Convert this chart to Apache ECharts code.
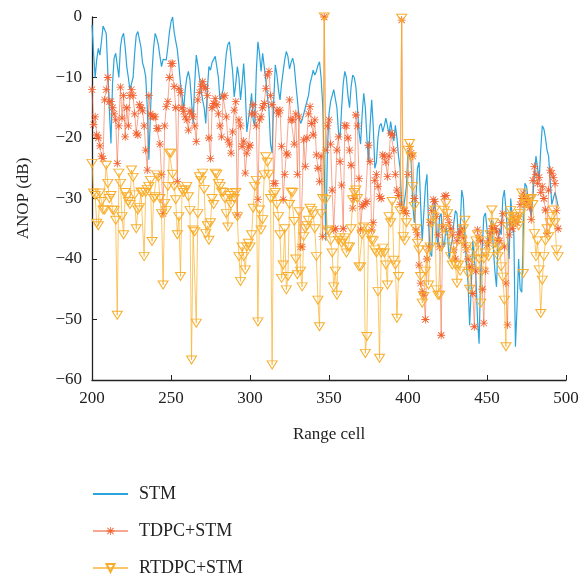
<!DOCTYPE html>
<html>
	<head>
		<meta charset="UTF-8">
		<title>ANOP</title>
		<style type="text/css">
			body {
				margin: 0;
				padding: 0;
				background: #fff;
			}

			#chart {
				width: 586px;
				height: 588px;
			}
		</style>
	</head>
	<body>
		<div id="chart"></div>
		<script src="https://cdn.jsdelivr.net/npm/echarts@6/dist/echarts.min.js" type="text/javascript" charset="utf-8"></script>
		<script>
			// range cells 200 .. 495, one value per cell
			var startCell = 200;

			var stm = [
				-1.3, -6, -10, -7, -5.2, -6.3, -4, -1.5, -1.3, -2.7,
				-9, -15.4, -20.9, -11, -6.8, -6, -8, -10, -5, -3.3,
				-2.7, -5, -8.2, -10, -12, -11, -10, -6, -3, -2.4,
				-2.7, -5, -7.6, -8.5, -9.9, -15, -23.6, -16, -9, -5,
				-2.7, -3.5, -4.6, -6.5, -8.2, -7, -6.8, -7.1, -5, -2.5,
				-0.8, 0, -2.5, -4, -5.4, -8, -11, -13, -15.4, -12,
				-10, -9, -10.4, -14, -17.6, -11, -6.3, -8, -10, -12,
				-13.7, -15, -17.6, -12, -8.2, -8.8, -7.5, -7, -6.5, -6.8,
				-10, -13.7, -13, -12, -9, -6, -4.5, -4.1, -6.6, -9,
				-13.2, -11, -8.2, -10, -13.7, -11, -7.7, -12, -19, -19,
				-15, -12.6, -17, -18, -9, -4.1, -6, -9, -6, -6.3,
				-10.4, -13, -15.4, -21, -22.5, -14, -7.9, -9.5, -12, -13.7,
				-11, -9, -7, -5.7, -6.5, -8.6, -7.5, -6.8, -8, -11,
				-13.7, -16.5, -17.6, -17, -16, -15, -14.8, -13, -11, -10,
				-8.8, -9.6, -9, -8, -7.4, -10, -14.5, -25, -37, -22,
				-16, -14, -13, -12, -12.2, -15, -19, -20, -15, -11,
				-9, -10, -13, -15, -11.5, -9.6, -10, -11.5, -15, -19,
				-21, -16, -12.6, -15, -20, -24, -18, -13.7, -18, -25,
				-24, -20, -18, -17.6, -19, -18, -16.7, -18, -19.5, -17.3,
				-19, -20.5, -17.9, -20, -23, -25, -31, -32, -32, -28,
				-22, -22, -24, -31, -34, -30, -25, -24, -31, -37,
				-37, -28, -26, -34, -39, -39.6, -32, -30, -36, -38,
				-33, -32.5, -37, -38, -34.7, -36, -40, -38, -36.9, -34,
				-32, -32.5, -37, -35, -28.6, -30, -36, -41, -44, -51,
				-45, -37, -40, -43, -50, -54, -42, -38, -33, -32.4,
				-35, -38, -36, -33.5, -38, -42, -44.6, -37, -35, -36,
				-30, -28.6, -32, -36, -40, -30, -29.7, -36, -54.5, -48,
				-40, -45, -45.5, -35, -27.5, -28, -30, -31, -33, -30,
				-26, -23, -25, -27, -22, -18, -18.5, -20, -22, -23,
				-27, -31, -30, -29, -30, -31.3
			];

			var tdpc = [
				-12, -17.8, -16.5, -19.5, -20, -21.3, -23, -23.4, -13.7, -12,
				-10, -14, -14, -15, -16, -17, -24.2, -18, -11.6, -16.7,
				-13, -19.8, -15, -18, -13, -12, -13, -16, -19.2, -19.5,
				-14.5, -15, -15.5, -18, -22, -25.3, -13, -16, -16.4, -16.5,
				-16.5, -18.4, -18.4, -21, -26, -32.5, -18, -14.8, -14, -10,
				-7.7, -7.7, -11.5, -15, -27.2, -11.8, -12.5, -15, -15.6, -16.5,
				-17, -18.7, -15.5, -16, -16.5, -18, -20.6, -13.7, -12.5, -11.5,
				-10.7, -11.5, -11.8, -13, -20, -23.4, -15, -14.3, -13.5, -14.5,
				-16, -18, -19.8, -13.2, -13, -16.5, -20.3, -21, -22.5, -19,
				-15.4, -14, -32.7, -17, -18, -21.4, -20.5, -25.8, -22.5, -21.5,
				-21.2, -16, -14.5, -16, -18, -30.2, -17, -16.5, -15, -14.3,
				-11.8, -9.6, -9, -13, -14.5, -27.5, -27.5, -15.4, -16, -15.4,
				-21.4, -30.2, -26, -22.5, -22.8, -13.7, -17, -17, -21, -16,
				-26, -16.5, -38, -38, -20.3, -24.7, -20, -16, -14.8, -17.6,
				-19.5, -17, -22.8, -25, -27.2, -23, -36.3, 0, -22, -18,
				-17, -21, -28.6, -35.2, -35, -22, -19.8, -23.9, -27.8, -35,
				-17.9, -18, -20, -22, -24.5, -31.6, -30, -16.2, -18, -26.7,
				-35.2, -31.3, -31, -30.8, -30.5, -21.2, -23.9, -35.2, -34, -27,
				-26, -28, -29.7, -30, -22.8, -23, -24, -26.4, -23, -19.2,
				-19.5, -22, -26, -28.6, -29.5, -31, -0.5, -32, -32, -32.5,
				-26, -21.4, -22.5, -23, -30, -35.2, -36, -41, -44, -45.4,
				-46, -50, -40, -38, -34, -32, -30.2, -30.5, -33, -36,
				-38, -52.6, -34.7, -29.7, -29.5, -33, -34, -35, -36, -38.5,
				-40, -37, -36, -35.5, -35, -36.5, -37.7, -38.5, -40, -41.3,
				-41.3, -45.7, -51.2, -42, -35.2, -36.5, -37, -45, -50.6, -42,
				-37.7, -37, -35.8, -35, -34.5, -35, -35.5, -36.9, -37, -34,
				-32.5, -38, -44, -50.9, -36, -34, -35, -33, -34, -34,
				-33, -31, -30, -29.1, -31, -30, -30.5, -31.5, -33.5, -27,
				-24.7, -26, -27.5, -26.5, -29, -28, -30, -31.9, -35.8, -28.6,
				-25.3, -25.8, -26.5, -27.5, -32, -35
			];

			var rtdpc = [
				-24.2, -29.1, -29.5, -34.1, -34.5, -29.1, -30.5, -31.9, -31.9, -24.5,
				-27.5, -30, -29.5, -31.9, -32, -33.6, -49.3, -25.8, -27.5, -33,
				-36, -29, -29.7, -30.5, -31, -25.3, -26.5, -29.4, -35, -31.9,
				-31.5, -28.9, -29, -39.6, -29, -28.5, -28, -27, -37.1, -30,
				-29.7, -26.1, -26.5, -30, -32.5, -44.3, -30.8, -32, -28, -22.5,
				-22.5, -26, -28, -30.2, -36, -33, -42.9, -28.6, -29, -28.6,
				-28, -29.7, -32, -56.7, -35.2, -35.5, -50.6, -32.5, -26.4, -27,
				-25.8, -28.5, -35.8, -34.5, -36.9, -34, -30, -31, -25.8, -26,
				-27.5, -28, -28.9, -29, -30, -32.5, -34.7, -29.5, -31, -29.1,
				-30, -29, -33, -39.6, -43.7, -38, -39.6, -41.8, -38, -37.4,
				-38, -36, -31.6, -28, -27, -50.4, -31.9, -35.2, -33.5, -26.1,
				-23.1, -24, -26, -30, -57.5, -29.4, -29, -31, -33, -36,
				-43.2, -41, -35, -45.1, -42.9, -31, -28.9, -29, -33.8, -40,
				-42.6, -32.2, -42, -44.6, -36.3, -35, -34.5, -33.6, -31.6, -32,
				-32.7, -35, -39.6, -46.8, -51.2, -32.5, -30, 0, -30.2, -35.2,
				-35.5, -37, -39, -44.6, -42, -46, -36.9, -36.5, -37.4, -37,
				-36.5, -39, -38, -38, -35, -30.2, -29, -28.6, -30, -41.3,
				-41.3, -36, -34.7, -55.6, -52.8, -35, -36, -36.9, -37, -38.5,
				-39, -45.4, -56.4, -39, -38.2, -39, -41, -44.3, -33, -34,
				-30.5, -40.2, -41, -49.8, -42.9, -32, -0.2, -36.3, -37, -34,
				-22, -20.9, -23.1, -28, -31.3, -35, -37.4, -38.5, -42.9, -47.3,
				-46.2, -42, -38.5, -44.3, -38, -34.1, -33, -31.9, -45.1, -46,
				-46, -38, -35, -32, -30.8, -32.5, -36, -39.6, -41, -38,
				-41, -44, -41, -42, -36.9, -35, -33.6, -38, -42.4, -45,
				-41.8, -40, -38.5, -37, -36, -40, -47.3, -42, -40, -39,
				-37, -39.6, -36, -31.9, -34, -37.4, -38.5, -39.6, -38, -41.3,
				-43, -46.8, -54.5, -34.7, -33, -32, -33, -34, -33.6, -33,
				-34.5, -32.5, -29.1, -42.4, -30.8, -30.5, -31, -30.2, -30, -31,
				-35.8, -39.6, -37, -41.8, -49, -43.5, -39.6, -37, -35, -36.3,
				-34, -33, -31.9, -34, -38.5, -39.6
			];

			var xTicks = [200, 250, 300, 350, 400, 450, 500];
			var yTicks = [-60, -50, -40, -30, -20, -10, 0];

			function toPairs(vals) {
				var out = [];
				for (var i = 0; i < vals.length; i++) {
					out.push([startCell + i, vals[i]]);
				}
				return out;
			}

			var serif = "'Liberation Serif', 'DejaVu Serif', serif";
			// asterisk (4 crossed bars) and open down-triangle markers
			var starPath = 'path://M9 0L11 0L11 20L9 20Z M0 9L20 9L20 11L0 11Z M2.9 1.5L18.5 17.1L17.1 18.5L1.5 2.9Z M17.1 1.5L18.5 2.9L2.9 18.5L1.5 17.1Z';
			var triPath = 'path://M0 0L20 0L10 17Z';

			var chart = echarts.init(document.getElementById('chart'), null, {renderer: 'canvas'});

			var option = {
				backgroundColor: '#fff',
				animation: false,
				grid: {
					left: 92,
					top: 17,
					width: 474,
					height: 363
				},
				legend: {
					orient: 'vertical',
					left: 92,
					top: 485,
					padding: 0,
					itemWidth: 35,
					itemHeight: 10,
					itemGap: 19,
					textStyle: {fontFamily: serif, fontSize: 18, color: '#222', padding: [0, 0, 0, 6]},
					data: [
						{name: 'STM', itemStyle: {opacity: 0}},
						'TDPC+STM',
						'RTDPC+STM'
					]
				},
				xAxis: {
					type: 'value',
					min: xTicks[0],
					max: xTicks[xTicks.length - 1],
					interval: 50,
					name: 'Range cell',
					nameLocation: 'middle',
					nameGap: 46,
					nameTextStyle: {fontFamily: serif, fontSize: 17, color: '#222'},
					axisLine: {onZero: false, lineStyle: {color: '#222', width: 1.3}},
					axisTick: {inside: true, length: 5, lineStyle: {color: '#222'}},
					axisLabel: {fontFamily: serif, fontSize: 17, color: '#222', margin: 10},
					splitLine: {show: false}
				},
				yAxis: {
					type: 'value',
					min: yTicks[0],
					max: yTicks[yTicks.length - 1],
					interval: 10,
					name: 'ANOP (dB)',
					nameLocation: 'middle',
					nameGap: 60,
					nameTextStyle: {fontFamily: serif, fontSize: 17, color: '#222'},
					axisLine: {show: true, onZero: false, lineStyle: {color: '#222', width: 1.3}},
					axisTick: {show: true, inside: true, length: 5, lineStyle: {color: '#222'}},
					axisLabel: {
						fontFamily: serif, fontSize: 17, color: '#222', margin: 10,
						formatter: function (v) { return v < 0 ? '\u2212' + Math.abs(v) : String(v); }
					},
					splitLine: {show: false}
				},
				series: [
					{
						name: 'STM',
						type: 'line',
						data: toPairs(stm),
						symbol: 'none',
						lineStyle: {color: '#2BA3DB', width: 1.2},
						itemStyle: {color: '#2BA3DB'},
						z: 2
					},
					{
						name: 'TDPC+STM',
						type: 'line',
						data: toPairs(tdpc),
						symbol: starPath,
						symbolSize: 8,
						showAllSymbol: true,
						lineStyle: {color: 'rgba(242,110,70,0.6)', width: 1},
						itemStyle: {color: '#F2612F', borderWidth: 0},
						z: 3
					},
					{
						name: 'RTDPC+STM',
						type: 'line',
						data: toPairs(rtdpc),
						symbol: triPath,
						symbolSize: [10, 8],
						showAllSymbol: true,
						lineStyle: {color: 'rgba(250,175,40,0.7)', width: 1},
						itemStyle: {color: 'rgba(255,255,255,0)', borderColor: '#F8AE2C', borderWidth: 1},
						z: 4
					}
				]
			};

			chart.setOption(option);
		</script>
	</body>
</html>
